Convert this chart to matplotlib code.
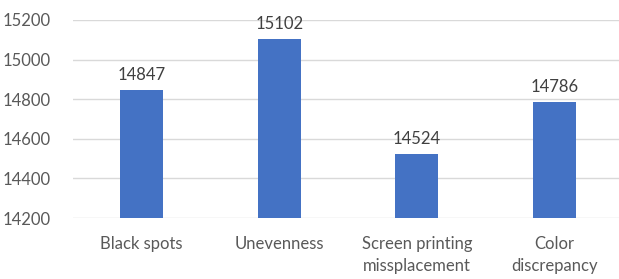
import matplotlib.pyplot as plt

categories = ['Black spots', 'Unevenness', 'Screen printing\nmissplacement', 'Color\ndiscrepancy']
values = [14847, 15102, 14524, 14786]
yticks = [14200, 14400, 14600, 14800, 15000, 15200]

plt.rcParams['font.family'] = ['Lato', 'DejaVu Sans']

fig = plt.figure(figsize=(6.19, 2.79), dpi=100)
ax = fig.add_axes([73 / 619, 1 - 218 / 279, 550 / 619, 198 / 279])

x = range(len(categories))
bars = ax.bar(x, values, width=0.315, color='#4472C4', zorder=3)
for xi, v in zip(x, values):
    ax.text(xi, v + 35, str(v), ha='center', va='bottom', fontsize=12, color='#404040')

ax.set_ylim(14200, 15200)
ax.set_xlim(-0.5, len(categories) - 0.5)
ax.set_yticks(yticks)
ax.set_yticklabels([str(t) for t in yticks])
ax.set_xticks(list(x))
ax.set_xticklabels(categories, linespacing=1.45)
ax.tick_params(axis='both', length=0, labelsize=12, labelcolor='#595959')
ax.tick_params(axis='y', pad=16)
ax.tick_params(axis='x', pad=13)
ax.grid(axis='y', color='#D9D9D9', linewidth=1, zorder=0)
for s in ax.spines.values():
    s.set_visible(False)

fig.savefig('out.png', dpi=100)
